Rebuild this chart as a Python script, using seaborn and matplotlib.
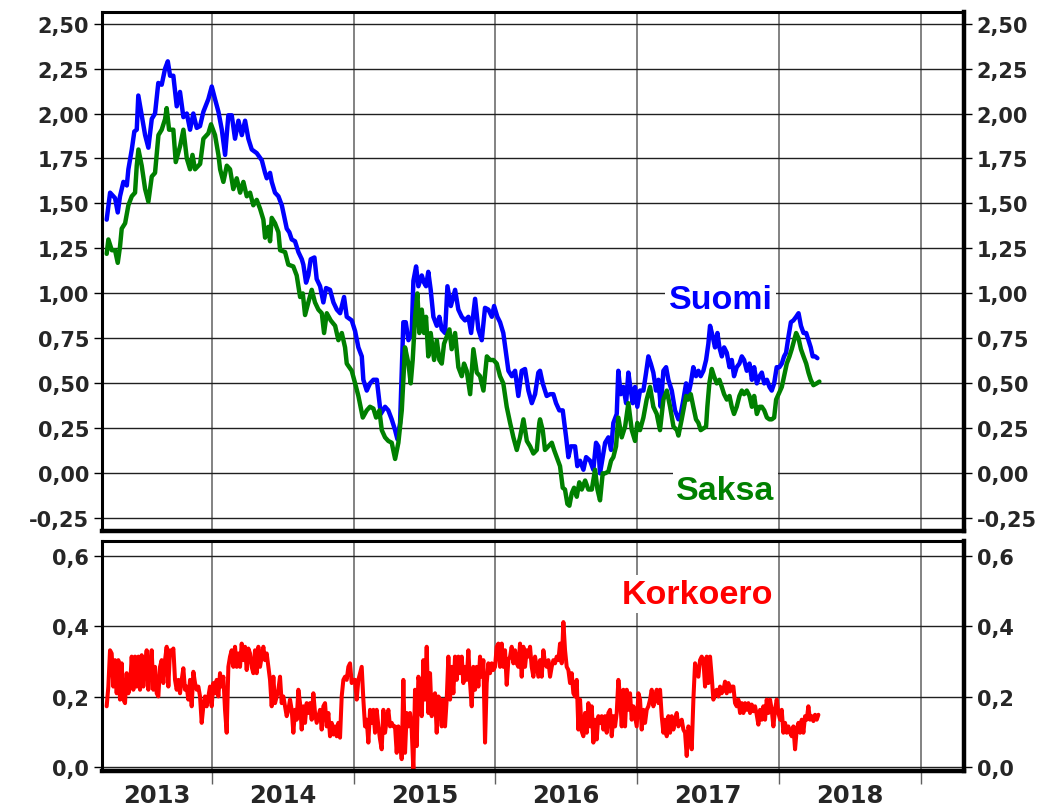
import numpy as np
import pandas as pd
import matplotlib
matplotlib.use("Agg")
import matplotlib.pyplot as plt
import seaborn as sns
from matplotlib.ticker import FixedLocator, FuncFormatter, NullFormatter

# ---------------- data (decimal years, percent) ----------------
suomi_t = [
    2013.259, 2013.283, 2013.318, 2013.337, 2013.353, 2013.377, 2013.401, 2013.412, 2013.436, 2013.454,
    2013.471, 2013.482, 2013.506, 2013.530, 2013.553, 2013.577, 2013.600, 2013.623, 2013.647, 2013.671,
    2013.690, 2013.706, 2013.729, 2013.753, 2013.776, 2013.800, 2013.824, 2013.847, 2013.870, 2013.894,
    2013.917, 2013.941, 2013.976, 2014.000, 2014.023, 2014.047, 2014.071, 2014.094, 2014.117, 2014.141,
    2014.164, 2014.188, 2014.212, 2014.235, 2014.258,
    2014.282, 2014.317, 2014.353, 2014.376, 2014.388, 2014.411, 2014.423, 2014.446, 2014.470, 2014.494,
    2014.510, 2014.529, 2014.547, 2014.564, 2014.587, 2014.611, 2014.635, 2014.646, 2014.665, 2014.681,
    2014.698, 2014.724, 2014.740, 2014.764, 2014.787, 2014.806, 2014.834, 2014.858, 2014.882, 2014.905,
    2014.933, 2014.952, 2014.987, 2015.011, 2015.034, 2015.058, 2015.069, 2015.093, 2015.116, 2015.140,
    2015.164,
    2015.192, 2015.222, 2015.245, 2015.269, 2015.293, 2015.309, 2015.328, 2015.342, 2015.351, 2015.368,
    2015.387, 2015.410, 2015.422, 2015.441, 2015.457, 2015.481, 2015.497, 2015.511, 2015.527, 2015.544,
    2015.563, 2015.587, 2015.605, 2015.622, 2015.645, 2015.662, 2015.686, 2015.716, 2015.739, 2015.763,
    2015.786, 2015.810, 2015.829, 2015.857, 2015.880, 2015.904, 2015.927, 2015.951, 2015.975, 2015.991,
    2016.014, 2016.033, 2016.056, 2016.075, 2016.092, 2016.116, 2016.139, 2016.162, 2016.186, 2016.209,
    2016.233, 2016.257, 2016.280, 2016.303,
    2016.315, 2016.334, 2016.350, 2016.362, 2016.386, 2016.409, 2016.428, 2016.451, 2016.475, 2016.499,
    2016.515, 2016.532, 2016.562, 2016.578, 2016.597, 2016.621, 2016.640, 2016.668, 2016.691, 2016.710,
    2016.726, 2016.738, 2016.757, 2016.774, 2016.797, 2016.816, 2016.832, 2016.856, 2016.867, 2016.884,
    2016.903, 2016.922, 2016.938, 2016.955, 2016.969, 2016.985, 2017.001, 2017.020, 2017.044, 2017.063,
    2017.079, 2017.096, 2017.114, 2017.133, 2017.150, 2017.166, 2017.185, 2017.204, 2017.220, 2017.244,
    2017.267, 2017.291,
    2017.307, 2017.326, 2017.345, 2017.361, 2017.378, 2017.396, 2017.415, 2017.432, 2017.448, 2017.467,
    2017.486, 2017.502, 2017.514, 2017.533, 2017.549, 2017.566, 2017.580, 2017.597, 2017.613, 2017.632,
    2017.651, 2017.667, 2017.683, 2017.702, 2017.721, 2017.738, 2017.754, 2017.773, 2017.792, 2017.809,
    2017.825, 2017.844, 2017.863, 2017.879, 2017.896, 2017.915, 2017.933, 2017.949, 2017.966, 2017.984,
    2018.003, 2018.020, 2018.036, 2018.050, 2018.067, 2018.084, 2018.102, 2018.121, 2018.138, 2018.155,
    2018.173, 2018.192, 2018.208, 2018.224, 2018.238, 2018.255, 2018.271,
]
suomi = [
    1.41, 1.56, 1.53, 1.45, 1.54, 1.62, 1.60, 1.69, 1.80, 1.90,
    1.91, 2.10, 1.99, 1.88, 1.81, 1.97, 2.00, 2.17, 2.16, 2.25,
    2.29, 2.21, 2.21, 2.04, 2.12, 1.98, 2.00, 1.91, 2.00, 1.92,
    1.93, 2.01, 2.08, 2.15, 2.08, 2.01, 1.91, 1.77, 1.99, 1.99,
    1.86, 1.96, 1.88, 1.96, 1.86,
    1.80, 1.78, 1.74, 1.67, 1.64, 1.67, 1.62, 1.56, 1.54, 1.49,
    1.43, 1.36, 1.34, 1.30, 1.29, 1.23, 1.19, 1.16, 1.06, 1.10,
    1.19, 1.20, 1.08, 1.04, 0.95, 1.03, 1.02, 0.95, 0.91, 0.89,
    0.98, 0.87, 0.85, 0.79, 0.70, 0.65, 0.52, 0.46, 0.50, 0.52,
    0.52,
    0.33, 0.37, 0.35, 0.30, 0.24, 0.19, 0.28, 0.63, 0.84, 0.84,
    0.74, 0.78, 1.07, 1.15, 1.04, 1.10, 1.06, 1.04, 1.12, 1.02,
    0.87, 0.82, 0.87, 0.80, 0.78, 1.04, 0.93, 1.02, 0.91, 0.87,
    0.85, 0.87, 0.78, 0.97, 0.80, 0.74, 0.92, 0.91, 0.87, 0.93,
    0.87, 0.84, 0.78, 0.67, 0.57, 0.54, 0.57, 0.43, 0.57, 0.58,
    0.46, 0.39, 0.44, 0.56,
    0.57, 0.50, 0.46, 0.43, 0.44, 0.44, 0.39, 0.35, 0.35, 0.20,
    0.09, 0.15, 0.15, 0.04, 0.07, 0.02, 0.09, 0.07, 0.02, 0.17,
    0.15, 0.00, 0.09, 0.17, 0.20, 0.13, 0.28, 0.33, 0.57, 0.44,
    0.48, 0.39, 0.56, 0.46, 0.39, 0.48, 0.37, 0.46, 0.46, 0.56,
    0.65, 0.61, 0.56, 0.46, 0.52, 0.37, 0.57, 0.59, 0.52, 0.46,
    0.35, 0.30,
    0.33, 0.41, 0.50, 0.44, 0.50, 0.59, 0.54, 0.57, 0.54, 0.57,
    0.63, 0.72, 0.82, 0.76, 0.70, 0.78, 0.70, 0.65, 0.70, 0.67,
    0.59, 0.63, 0.54, 0.59, 0.61, 0.65, 0.63, 0.57, 0.61, 0.52,
    0.59, 0.50, 0.54, 0.56, 0.50, 0.52, 0.48, 0.46, 0.50, 0.59,
    0.59, 0.61, 0.65, 0.67, 0.76, 0.84, 0.85, 0.87, 0.89, 0.82,
    0.78, 0.78, 0.74, 0.70, 0.65, 0.65, 0.64,
]

saksa_t = [
    2013.259, 2013.271, 2013.295, 2013.318, 2013.337, 2013.353, 2013.365, 2013.389, 2013.412, 2013.436,
    2013.459, 2013.471, 2013.483, 2013.506, 2013.530, 2013.553, 2013.577, 2013.600, 2013.624, 2013.647,
    2013.671, 2013.682, 2013.699, 2013.729, 2013.746, 2013.777, 2013.800, 2013.824, 2013.847, 2013.864,
    2013.882, 2013.918, 2013.941, 2013.976, 2013.995, 2014.023, 2014.047,
    2014.059, 2014.082, 2014.106, 2014.129, 2014.152, 2014.176, 2014.200, 2014.223, 2014.247, 2014.270,
    2014.293, 2014.317, 2014.341, 2014.364, 2014.376, 2014.399, 2014.411, 2014.423, 2014.446, 2014.470,
    2014.482, 2014.517, 2014.540, 2014.575, 2014.599, 2014.623, 2014.642, 2014.658, 2014.681, 2014.705,
    2014.728, 2014.752, 2014.776, 2014.792, 2014.811, 2014.839, 2014.870, 2014.893, 2014.917, 2014.940,
    2014.952, 2014.987, 2015.011, 2015.034, 2015.065, 2015.093, 2015.116, 2015.140, 2015.159, 2015.182,
    2015.199, 2015.222, 2015.245, 2015.269, 2015.293, 2015.316, 2015.340, 2015.363, 2015.387, 2015.403,
    2015.417, 2015.434, 2015.450, 2015.464, 2015.481, 2015.497, 2015.511, 2015.527, 2015.544, 2015.568,
    2015.587, 2015.605, 2015.622, 2015.638, 2015.657, 2015.676, 2015.692, 2015.716, 2015.739, 2015.763,
    2015.779, 2015.798, 2015.822, 2015.845, 2015.869, 2015.892, 2015.916, 2015.940, 2015.963, 2015.986,
    2016.010, 2016.033, 2016.056, 2016.080, 2016.104, 2016.127, 2016.151, 2016.174, 2016.198, 2016.222,
    2016.245, 2016.268, 2016.292, 2016.310,
    2016.315, 2016.334, 2016.350, 2016.374, 2016.398, 2016.414, 2016.433, 2016.456, 2016.475, 2016.491,
    2016.508, 2016.522, 2016.539, 2016.555, 2016.574, 2016.592, 2016.609, 2016.633, 2016.656, 2016.680,
    2016.703, 2016.720, 2016.738, 2016.757, 2016.774, 2016.797, 2016.816, 2016.832, 2016.851, 2016.867,
    2016.891, 2016.915, 2016.938, 2016.962, 2016.985, 2017.001, 2017.020, 2017.044, 2017.067, 2017.091,
    2017.114, 2017.138, 2017.161, 2017.185, 2017.209, 2017.232, 2017.256, 2017.280,
    2017.291, 2017.314, 2017.331, 2017.345, 2017.361, 2017.378, 2017.396, 2017.415, 2017.432, 2017.448,
    2017.467, 2017.486, 2017.495, 2017.509, 2017.526, 2017.542, 2017.561, 2017.580, 2017.597, 2017.613,
    2017.632, 2017.651, 2017.667, 2017.683, 2017.702, 2017.721, 2017.738, 2017.754, 2017.773, 2017.792,
    2017.809, 2017.825, 2017.844, 2017.863, 2017.879, 2017.896, 2017.915, 2017.933, 2017.949, 2017.966,
    2017.980, 2017.997, 2018.020, 2018.036, 2018.055, 2018.074, 2018.090, 2018.107, 2018.121, 2018.138,
    2018.155, 2018.173, 2018.192, 2018.208, 2018.224, 2018.243, 2018.266, 2018.285,
]
saksa = [
    1.22, 1.30, 1.24, 1.24, 1.17, 1.26, 1.36, 1.39, 1.49, 1.54,
    1.56, 1.71, 1.80, 1.71, 1.58, 1.51, 1.65, 1.67, 1.88, 1.91,
    1.97, 2.03, 1.91, 1.91, 1.73, 1.82, 1.91, 1.75, 1.69, 1.77,
    1.69, 1.72, 1.86, 1.89, 1.94, 1.88, 1.77,
    1.69, 1.62, 1.71, 1.69, 1.58, 1.64, 1.56, 1.62, 1.54, 1.56,
    1.49, 1.52, 1.47, 1.41, 1.31, 1.37, 1.29, 1.42, 1.39, 1.34,
    1.24, 1.23, 1.16, 1.15, 1.10, 0.98, 1.00, 0.88, 0.95, 1.02,
    0.95, 0.91, 0.89, 0.78, 0.89, 0.85, 0.82, 0.74, 0.78, 0.70,
    0.61, 0.57, 0.50, 0.43, 0.31, 0.35, 0.37, 0.36, 0.31, 0.35,
    0.24, 0.20, 0.18, 0.17, 0.08, 0.17, 0.35, 0.70, 0.61, 0.50,
    0.63, 0.87, 1.00, 0.78, 0.91, 0.78, 0.87, 0.65, 0.78, 0.63,
    0.74, 0.63, 0.61, 0.72, 0.76, 0.80, 0.69, 0.78, 0.59, 0.54,
    0.61, 0.57, 0.44, 0.69, 0.56, 0.54, 0.46, 0.65, 0.63, 0.63,
    0.61, 0.54, 0.50, 0.37, 0.28, 0.20, 0.13, 0.20, 0.30, 0.18,
    0.15, 0.11, 0.13, 0.28,
    0.30, 0.24, 0.13, 0.15, 0.17, 0.13, 0.09, 0.04, -0.08, -0.09,
    -0.17, -0.18, -0.11, -0.08, -0.13, -0.05, -0.09, -0.04, -0.09, -0.09,
    0.02, -0.09, -0.15, 0.00, 0.00, 0.01, 0.07, 0.09, 0.15, 0.31,
    0.20, 0.26, 0.39, 0.24, 0.18, 0.28, 0.24, 0.31, 0.41, 0.48,
    0.37, 0.33, 0.24, 0.41, 0.46, 0.37, 0.26, 0.24,
    0.21, 0.30, 0.37, 0.43, 0.41, 0.44, 0.37, 0.30, 0.28, 0.24,
    0.25, 0.26, 0.37, 0.50, 0.58, 0.54, 0.50, 0.52, 0.48, 0.44,
    0.41, 0.43, 0.37, 0.33, 0.37, 0.43, 0.46, 0.44, 0.46, 0.43,
    0.37, 0.43, 0.33, 0.37, 0.37, 0.35, 0.31, 0.30, 0.30, 0.31,
    0.41, 0.44, 0.48, 0.54, 0.61, 0.65, 0.69, 0.74, 0.78, 0.75,
    0.69, 0.65, 0.61, 0.56, 0.52, 0.49, 0.50, 0.51,
]

# Korkoero (spread), read at a regular sampling of the time axis
korkoero_first, korkoero_last = 2013.259, 2018.278
korkoero = [
    0.173, 0.229, 0.332, 0.323, 0.229, 0.304, 0.210, 0.304, 0.192,
    0.295, 0.192, 0.182, 0.267, 0.210, 0.229, 0.314, 0.220, 0.314, 0.229,
    0.314, 0.220, 0.318, 0.229, 0.285, 0.332, 0.220, 0.285, 0.332, 0.220,
    0.285, 0.210, 0.201, 0.285, 0.304, 0.239, 0.304, 0.342, 0.229, 0.332,
    0.323, 0.337, 0.248, 0.220, 0.248, 0.210, 0.248, 0.281, 0.220, 0.229,
    0.192, 0.248, 0.173, 0.271, 0.239, 0.220, 0.229, 0.201, 0.126, 0.173,
    0.201, 0.173, 0.201, 0.229, 0.173, 0.239, 0.210, 0.248, 0.201, 0.267,
    0.229, 0.257, 0.163, 0.098, 0.285, 0.314, 0.332, 0.285, 0.342, 0.285,
    0.323, 0.285, 0.351, 0.304, 0.342, 0.276, 0.337, 0.323, 0.285, 0.267,
    0.332, 0.267, 0.342, 0.285, 0.314, 0.342, 0.304, 0.323, 0.285, 0.248,
    0.173, 0.257, 0.182, 0.201, 0.220, 0.257, 0.182, 0.201, 0.173, 0.145,
    0.163, 0.192, 0.163, 0.098, 0.163, 0.135, 0.220, 0.182, 0.107, 0.173,
    0.126, 0.182, 0.154, 0.182, 0.135, 0.210, 0.154, 0.126, 0.145, 0.163,
    0.107, 0.173, 0.182, 0.116, 0.154, 0.088, 0.126, 0.093, 0.116, 0.088,
    0.126, 0.084, 0.201, 0.248, 0.257, 0.248, 0.285, 0.295, 0.239, 0.248,
    0.248, 0.192, 0.248, 0.267, 0.285, 0.192, 0.116, 0.135, 0.070, 0.163,
    0.126, 0.163, 0.098, 0.163, 0.116, 0.079, 0.051, 0.163, 0.098, 0.135,
    0.163, 0.116, 0.126, 0.116,
    0.116, 0.041, 0.116, 0.088, 0.023, 0.248, 0.041, 0.154, 0.116, 0.154,
    0.107, -0.010, 0.220, 0.060, 0.257, 0.230, 0.145, 0.304,
    0.192, 0.342, 0.154, 0.267, 0.145, 0.201, 0.210, 0.098, 0.201, 0.192,
    0.116, 0.192, 0.116, 0.192, 0.314, 0.192, 0.285, 0.210, 0.314, 0.248,
    0.314, 0.267, 0.314, 0.239, 0.285, 0.248, 0.332, 0.239, 0.173, 0.285,
    0.220, 0.285, 0.229, 0.314, 0.257, 0.304, 0.070, 0.239, 0.295, 0.267,
    0.295, 0.276, 0.285, 0.342, 0.351, 0.285, 0.351, 0.285, 0.332, 0.234,
    0.304, 0.314, 0.342, 0.295, 0.332, 0.295, 0.285, 0.351, 0.257, 0.342,
    0.285, 0.332, 0.314, 0.342, 0.285, 0.257, 0.314, 0.285, 0.257, 0.304,
    0.257, 0.332, 0.295, 0.285, 0.304, 0.257, 0.285, 0.304, 0.295, 0.314,
    0.304, 0.351, 0.295, 0.412, 0.332, 0.285, 0.276, 0.239, 0.267, 0.210,
    0.201, 0.248, 0.107, 0.192, 0.102, 0.088, 0.154, 0.098, 0.182, 0.116,
    0.173, 0.070, 0.135, 0.079, 0.145, 0.126, 0.145, 0.107, 0.145, 0.098,
    0.154, 0.163, 0.088, 0.145, 0.116, 0.154, 0.248, 0.201, 0.116, 0.220,
    0.116, 0.220, 0.163, 0.210, 0.135, 0.173, 0.145, 0.116, 0.210, 0.192,
    0.107, 0.163, 0.126, 0.163, 0.173, 0.192, 0.220, 0.173, 0.201, 0.220,
    0.182, 0.220, 0.145, 0.098, 0.135, 0.088, 0.145, 0.098, 0.145, 0.107,
    0.135, 0.154, 0.116, 0.126, 0.135, 0.107, 0.098, 0.032,
    0.116, 0.098, 0.051, 0.192, 0.295, 0.276, 0.257, 0.304, 0.314, 0.304,
    0.229, 0.314, 0.239, 0.314, 0.257, 0.192, 0.210, 0.220, 0.201, 0.229,
    0.210, 0.220, 0.243, 0.210, 0.239, 0.215, 0.229, 0.229, 0.182, 0.173,
    0.192, 0.154, 0.182, 0.154, 0.182, 0.163, 0.182, 0.154, 0.178, 0.159,
    0.173, 0.149, 0.121, 0.163, 0.135, 0.173, 0.135, 0.192, 0.154, 0.192,
    0.163, 0.116, 0.163, 0.192, 0.154, 0.135, 0.163, 0.098, 0.126, 0.098,
    0.116, 0.098, 0.088, 0.116, 0.051, 0.107, 0.126, 0.098, 0.135, 0.098,
    0.145, 0.135, 0.173, 0.135, 0.145, 0.131, 0.149, 0.135, 0.149,
]
korkoero_t = np.linspace(korkoero_first, korkoero_last, len(korkoero))

year_starts = [2014, 2015, 2016, 2017, 2018, 2019]
year_labels = ["2013", "2014", "2015", "2016", "2017", "2018"]
year_label_pos = [2013.614, 2014.5, 2015.5, 2016.5, 2017.5, 2018.5]
top_ticks = [-0.25, 0.0, 0.25, 0.5, 0.75, 1.0, 1.25, 1.5, 1.75, 2.0, 2.25, 2.5]
bottom_ticks = [0.0, 0.2, 0.4, 0.6]

# ---------------- style ----------------
sns.set_style("white")
plt.rcParams['font.family'] = ['DejaVu Sans']
plt.rcParams['font.weight'] = 'bold'

BLUE, GREEN, RED = '#0000FF', '#008000', '#FF0000'

fig = plt.figure(figsize=(10.53, 8.12), dpi=100)
ax1 = fig.add_axes([0.0966, 0.3445, 0.8189, 0.6401])
ax2 = fig.add_axes([0.0966, 0.0493, 0.8189, 0.2836])

sns.lineplot(x=suomi_t, y=suomi, ax=ax1, color=BLUE, lw=3.2, estimator=None, sort=False)
sns.lineplot(x=saksa_t, y=saksa, ax=ax1, color=GREEN, lw=3.2, estimator=None, sort=False)
sns.lineplot(x=korkoero_t, y=korkoero, ax=ax2, color=RED, lw=2.9, estimator=None, sort=False)

xlim = (2013.224, 2019.305)
for ax in (ax1, ax2):
    ax.set_xlim(*xlim)
    ax.set_xlabel("")
    ax.set_ylabel("")
    ax.set_axisbelow(True)
    ax.xaxis.set_major_locator(FixedLocator(year_starts))
    ax.xaxis.set_major_formatter(NullFormatter())
    ax.grid(False)
    for x in year_starts:
        ax.axvline(x, color='#606060', lw=1.1, zorder=0.5)
    for side, sp in ax.spines.items():
        sp.set_color('black')
        sp.set_linewidth(3.2 if side in ('right', 'bottom') else 2.2)
        sp.set_zorder(5)

ax1.set_ylim(-0.322, 2.567)
ax1.yaxis.set_major_locator(FixedLocator(top_ticks))
ax1.yaxis.set_major_formatter(FuncFormatter(lambda v, p: f"{v:.2f}".replace('.', ',')))
for y in top_ticks:
    ax1.axhline(y, color='#202020', lw=1.0, zorder=0.5)
ax1.tick_params(axis='x', which='both', length=0, labelbottom=False)

ax2.set_ylim(-0.0105, 0.643)
ax2.yaxis.set_major_locator(FixedLocator(bottom_ticks))
ax2.yaxis.set_major_formatter(FuncFormatter(lambda v, p: f"{v:.1f}".replace('.', ',')))
for y in bottom_ticks:
    ax2.axhline(y, color='#202020', lw=1.0, zorder=0.5)
ax2.xaxis.set_minor_locator(FixedLocator(year_label_pos))
ax2.xaxis.set_minor_formatter(FuncFormatter(lambda v, p: year_labels[p] if p is not None and p < len(year_labels) else ""))
ax2.tick_params(axis='x', which='major', direction='out', length=9, width=1.0,
                color='#606060', bottom=True)
ax2.tick_params(axis='x', which='minor', length=0, labelsize=17.5, pad=9, bottom=True)

for ax in (ax1, ax2):
    ax.tick_params(axis='y', which='major', direction='out', length=6, width=1.0,
                   color='black', left=True, right=True, labelleft=True, labelright=True,
                   labelsize=15, pad=3)

# ---------------- series labels ----------------
lab_font = dict(family=['Liberation Sans', 'DejaVu Sans'], fontsize=24.5, fontweight='bold',
                ha='center', va='baseline', zorder=4)
box = dict(facecolor='white', edgecolor='none', pad=2.5)
ax1.text(2017.588, 0.92, "Suomi", color=BLUE, bbox=box, **lab_font)
ax1.text(2017.623, -0.143, "Saksa", color=GREEN, bbox=box, **lab_font)
ax2.text(2017.426, 0.467, "Korkoero", color=RED, bbox=box, **lab_font)

fig.savefig("out.png", dpi=100, facecolor='white')
